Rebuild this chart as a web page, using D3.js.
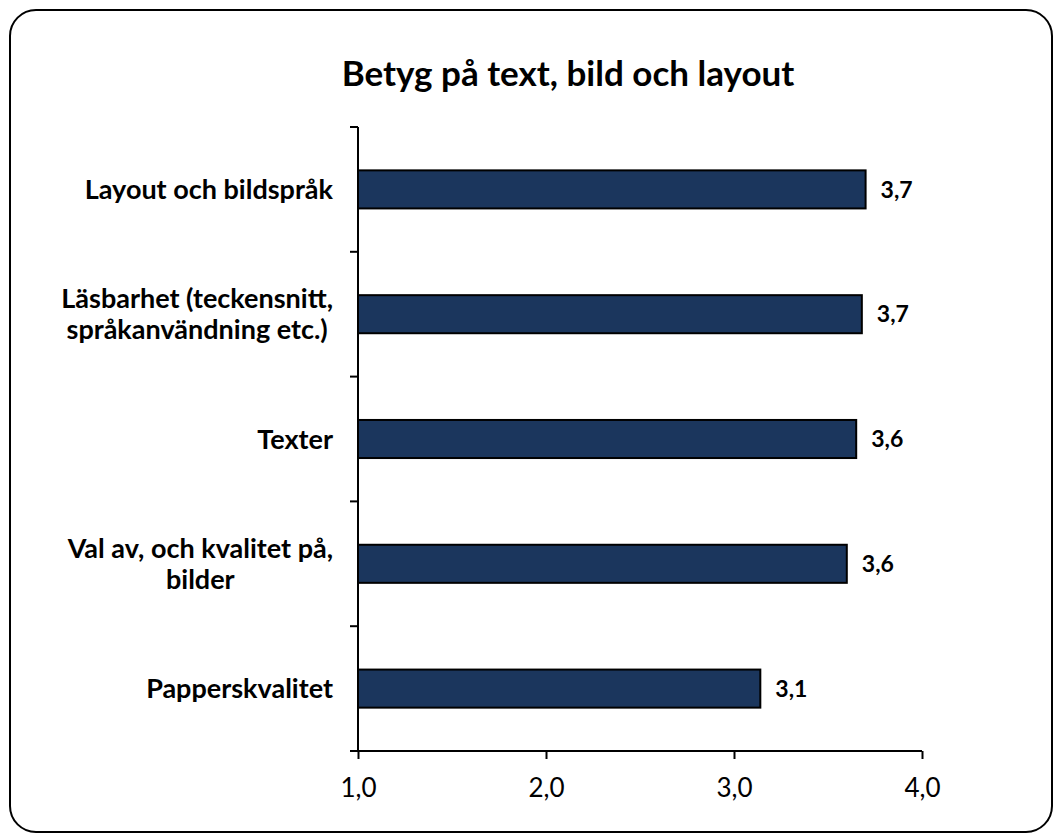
<!DOCTYPE html>
<html>
<head>
<meta charset="utf-8">
<script src="https://cdn.jsdelivr.net/npm/d3@7"></script>
<style>
  body { margin: 0; background: #fff; }
  svg { display: block; }
  text { font-family: Lato, "Open Sans", sans-serif; fill: #000; }
</style>
</head>
<body>
<svg width="1055" height="836"></svg>
<script>
// data
var categories = ["Layout och bildspråk", "Läsbarhet (teckensnitt, språkanvändning etc.)", "Texter", "Val av, och kvalitet på, bilder", "Papperskvalitet"];
var labelLines = [["Layout och bildspråk"], ["Läsbarhet (teckensnitt,", "språkanvändning etc.)"], ["Texter"], ["Val av, och kvalitet på,", "bilder"], ["Papperskvalitet"]];
var values = [3.70, 3.68, 3.65, 3.60, 3.14];
var valueLabels = ["3,7", "3,7", "3,6", "3,6", "3,1"];
var xTicks = [1, 2, 3, 4];

var svg = d3.select("svg");

// rounded frame
svg.append("rect")
    .attr("x", 10).attr("y", 10)
    .attr("width", 1042).attr("height", 822)
    .attr("rx", 26).attr("ry", 26)
    .attr("fill", "#fff")
    .attr("stroke", "#000")
    .attr("stroke-width", 2);

// title
svg.append("text")
    .attr("x", 568).attr("y", 86)
    .attr("text-anchor", "middle")
    .style("font-size", "35px")
    .style("font-weight", 700)
    .text("Betyg på text, bild och layout");

var plotTop = 127, plotBottom = 751, plotLeft = 358, plotRight = 922;

var x = d3.scaleLinear().domain([1, 4]).range([plotLeft, plotRight]);

// bars sit in the middle of each category slot
var y = d3.scaleBand().domain(categories).range([plotTop, plotBottom])
    .paddingInner(0.695).paddingOuter(0.3475);

// category boundaries for the ticks
var slot = d3.scaleBand().domain(categories).range([plotTop, plotBottom]).padding(0);

var g = svg.append("g");

// bars
g.selectAll(".bar")
    .data(categories)
  .enter().append("rect")
    .attr("class", "bar")
    .attr("x", x(1))
    .attr("y", function(d) { return y(d); })
    .attr("width", function(d, i) { return x(values[i]) - x(1); })
    .attr("height", y.bandwidth())
    .attr("fill", "#1b365d")
    .attr("stroke", "#000")
    .attr("stroke-width", 2);

// value labels
g.selectAll(".val")
    .data(categories)
  .enter().append("text")
    .attr("class", "val")
    .attr("x", function(d, i) { return x(values[i]) + 15; })
    .attr("y", function(d) { return y(d) + y.bandwidth() / 2; })
    .attr("dy", "0.36em")
    .style("font-size", "23px")
    .style("font-weight", 700)
    .text(function(d, i) { return valueLabels[i]; });

// y axis line and boundary ticks
var yAxis = svg.append("g");
yAxis.append("line")
    .attr("x1", plotLeft).attr("x2", plotLeft)
    .attr("y1", plotTop).attr("y2", plotBottom)
    .attr("stroke", "#000").attr("stroke-width", 2);
var bounds = categories.map(function(d) { return slot(d); }).concat([plotBottom]);
yAxis.selectAll(".yt")
    .data(bounds)
  .enter().append("line")
    .attr("class", "yt")
    .attr("x1", plotLeft - 8).attr("x2", plotLeft)
    .attr("y1", function(d) { return d; })
    .attr("y2", function(d) { return d; })
    .attr("stroke", "#000").attr("stroke-width", 2);

// category labels: block right-aligned next to the axis, lines centred in the block
var labelRight = 333;
var cat = svg.append("g").selectAll(".cat")
    .data(categories)
  .enter().append("text")
    .attr("class", "cat")
    .attr("text-anchor", "middle")
    .style("font-size", "27px")
    .style("font-weight", 700);
cat.each(function(d, i) {
    var lines = labelLines[i];
    var cy = slot(d) + slot.bandwidth() / 2;
    var lh = 31;
    var spans = d3.select(this).selectAll("tspan")
        .data(lines)
      .enter().append("tspan")
        .attr("y", function(l, j) { return cy + (j - (lines.length - 1) / 2) * lh; })
        .attr("dy", "0.36em")
        .text(function(l) { return l; });
    var w = d3.max(spans.nodes(), function(n) { return n.getComputedTextLength(); });
    spans.attr("x", labelRight - w / 2);
});

// x axis
var xAxis = svg.append("g")
    .attr("transform", "translate(0," + plotBottom + ")")
    .call(d3.axisBottom(x)
        .tickValues(xTicks)
        .tickSize(8)
        .tickPadding(20)
        .tickFormat(function(d) { return d3.format(".1f")(d).replace(".", ","); }));
xAxis.select(".domain").attr("stroke", "#000").attr("stroke-width", 2)
    .attr("d", "M" + (plotLeft - 8) + ",0H" + plotRight);
xAxis.selectAll(".tick line").attr("stroke", "#000").attr("stroke-width", 2);
xAxis.selectAll(".tick text")
    .style("font-family", "Lato, sans-serif")
    .style("font-size", "26px")
    .attr("fill", "#000");
</script>
</body>
</html>
